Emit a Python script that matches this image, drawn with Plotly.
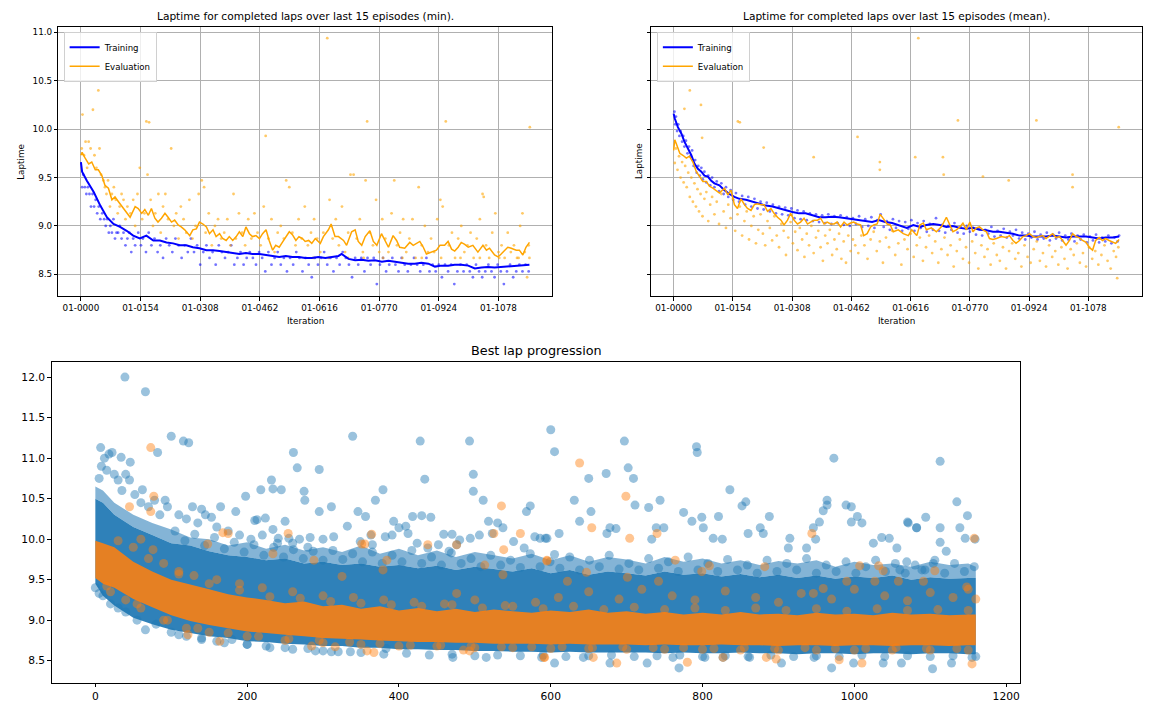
import plotly.graph_objects as go

# ---- top left: rolling min laptime ----
min_train_x = [0, 3, 15, 33, 50, 67, 84, 101, 118, 135, 152, 169, 187, 204, 221, 238, 255, 272, 289, 306,
               324, 341, 358, 375, 392, 409, 426, 443, 461, 478, 495, 512, 529, 546, 563, 579, 596, 613, 631,
               648, 665, 673, 691, 708, 725, 742, 759, 777, 794, 811, 828, 845, 862, 879, 897, 914, 931, 948,
               965, 982, 1000, 1017, 1034, 1051, 1068, 1085, 1102, 1120, 1137, 1158]
min_train_y = [9.66, 9.56, 9.47, 9.35, 9.21, 9.09, 9.02, 8.99, 8.95, 8.90, 8.87, 8.90, 8.85, 8.85, 8.83, 8.82,
               8.80, 8.80, 8.78, 8.77, 8.75, 8.75, 8.74, 8.73, 8.72, 8.71, 8.72, 8.71, 8.71, 8.70, 8.69, 8.68,
               8.69, 8.68, 8.68, 8.67, 8.67, 8.68, 8.67, 8.68, 8.69, 8.71, 8.66, 8.645, 8.65, 8.64, 8.645, 8.63,
               8.64, 8.63, 8.62, 8.61, 8.61, 8.62, 8.61, 8.58, 8.59, 8.59, 8.60, 8.60, 8.59, 8.56, 8.57, 8.575,
               8.57, 8.575, 8.58, 8.59, 8.59, 8.60]
min_eval_x = [0, 3, 11, 20, 28, 37, 45, 54, 62, 71, 80, 88, 97, 105, 114, 127, 140, 148, 157, 165, 174, 182,
              191, 199, 208, 217, 225, 234, 242, 251, 259, 268, 281, 289, 298, 306, 315, 324, 332, 341, 349,
              358, 366, 375, 383, 392, 401, 409, 418, 426, 435, 443, 452, 461, 469, 478, 486, 495, 503, 512,
              520, 529, 538, 546, 555, 563, 572, 579, 588, 596, 605, 618, 626, 639, 646, 656, 665, 678, 686,
              699, 708, 716, 725, 734, 746, 755, 764, 776, 785, 794, 806, 815, 823, 836, 849, 858, 875, 884,
              892, 905, 918, 927, 939, 948, 957, 965, 974, 982, 991, 1000, 1012, 1025, 1038, 1047, 1055, 1068,
              1077, 1085, 1094, 1102, 1111, 1124, 1132, 1141, 1149, 1158]
min_eval_y = [9.73, 9.76, 9.70, 9.64, 9.66, 9.58, 9.58, 9.52, 9.42, 9.39, 9.27, 9.30, 9.25, 9.21, 9.16, 9.09,
              9.20, 9.18, 9.13, 9.17, 9.11, 9.18, 9.08, 9.04, 9.08, 9.13, 9.09, 9.04, 9.06, 9.01, 8.99, 8.96,
              8.90, 8.96, 8.97, 9.04, 9.02, 8.99, 8.92, 8.96, 8.89, 8.92, 8.87, 8.85, 8.89, 8.85, 8.89, 8.94,
              8.89, 8.99, 8.92, 8.89, 8.90, 8.87, 8.92, 8.96, 8.85, 8.75, 8.80, 8.78, 8.83, 8.89, 8.94, 8.91,
              8.85, 8.89, 8.87, 8.84, 8.85, 8.82, 8.87, 8.82, 8.89, 8.96, 9.02, 8.89, 8.89, 8.85, 8.80, 8.94,
              8.96, 8.84, 8.80, 8.89, 8.95, 8.84, 8.80, 8.92, 8.85, 8.78, 8.90, 8.85, 8.78, 8.77, 8.83, 8.80,
              8.84, 8.78, 8.71, 8.73, 8.75, 8.80, 8.80, 8.84, 8.76, 8.74, 8.78, 8.83, 8.81, 8.78, 8.80, 8.73,
              8.80, 8.75, 8.77, 8.70, 8.68, 8.71, 8.75, 8.78, 8.77, 8.75, 8.75, 8.70, 8.78, 8.83]
min_train_pts_x = [3, 6, 10, 14, 18, 22, 26, 30, 34, 38, 42, 46, 50, 55, 60, 64, 68, 72, 76, 80, 84, 88, 92,
                   96, 100, 105, 110, 115, 120, 125, 130, 135, 140, 148, 155, 160, 168, 175, 182, 190, 198, 205,
                   212, 220, 228, 236, 244, 252, 260, 268, 276, 284, 292, 300, 308, 316, 324, 332, 340, 348,
                   356, 364, 372, 380, 388, 396, 404, 412, 420, 428, 436, 444, 452, 460, 468, 476, 484, 492,
                   500, 508, 516, 524, 532, 540, 548, 556, 564, 572, 580, 588, 596, 604, 612, 620, 628, 636,
                   644, 652, 660, 668, 676, 684, 692, 700, 708, 716, 724, 732, 740, 748, 756, 764, 772, 780,
                   788, 796, 804, 812, 820, 828, 836, 844, 852, 860, 868, 876, 884, 892, 900, 908, 916, 924,
                   932, 940, 948, 956, 964, 972, 980, 988, 996, 1004, 1012, 1020, 1028, 1036, 1044, 1052, 1060,
                   1068, 1076, 1084, 1092, 1100, 1108, 1116, 1124, 1132, 1140, 1148, 1156]
min_train_pts_y = [9.40, 9.53, 9.40, 9.33, 9.40, 9.33, 9.20, 9.33, 9.20, 9.27, 9.13, 9.20, 9.07, 9.13, 9.07,
                   9.00, 9.07, 8.93, 9.00, 8.93, 9.07, 8.87, 8.93, 8.93, 9.00, 8.87, 8.93, 8.80, 8.87, 8.93,
                   8.73, 8.87, 8.80, 8.93, 8.80, 8.87, 8.73, 8.93, 8.80, 8.87, 8.73, 8.80, 8.67, 8.87, 8.80,
                   8.73, 8.87, 8.80, 8.67, 8.80, 8.73, 8.87, 8.73, 8.80, 8.60, 8.73, 8.80, 8.67, 8.73, 8.60,
                   8.80, 8.73, 8.67, 8.73, 8.80, 8.60, 8.67, 8.73, 8.60, 8.67, 8.73, 8.67, 8.60, 8.73, 8.67,
                   8.53, 8.73, 8.60, 8.67, 8.73, 8.60, 8.67, 8.53, 8.67, 8.60, 8.73, 8.67, 8.53, 8.67, 8.60,
                   8.47, 8.67, 8.60, 8.67, 8.73, 8.60, 8.67, 8.53, 8.67, 8.60, 8.73, 8.67, 8.60, 8.47, 8.67,
                   8.60, 8.67, 8.53, 8.67, 8.60, 8.67, 8.40, 8.60, 8.67, 8.53, 8.60, 8.67, 8.60, 8.53, 8.67,
                   8.60, 8.53, 8.60, 8.67, 8.60, 8.53, 8.60, 8.67, 8.53, 8.60, 8.53, 8.60, 8.47, 8.60, 8.53,
                   8.60, 8.40, 8.53, 8.60, 8.53, 8.60, 8.53, 8.47, 8.60, 8.53, 8.47, 8.53, 8.60, 8.53, 8.47,
                   8.60, 8.53, 8.40, 8.53, 8.60, 8.47, 8.53, 8.60, 8.53, 8.60, 8.53]
min_eval_pts_x = [2, 4, 8, 12, 16, 20, 25, 31, 35, 40, 45, 48, 52, 58, 62, 66, 70, 75, 80, 85, 90, 95, 100,
                  105, 110, 115, 120, 128, 135, 140, 146, 152, 158, 164, 169, 176, 172, 180, 186, 192, 200, 206,
                  212, 218, 225, 233, 240, 246, 252, 258, 265, 272, 280, 288, 296, 304, 312, 318, 322, 330, 338,
                  346, 354, 362, 370, 378, 386, 394, 400, 408, 416, 424, 432, 440, 448, 456, 464, 472, 477, 484,
                  492, 500, 508, 516, 524, 530, 538, 546, 554, 562, 570, 578, 586, 594, 602, 610, 618, 626, 636,
                  642, 650, 658, 666, 674, 682, 690, 696, 704, 712, 720, 728, 735, 739, 746, 754, 762, 770, 778,
                  786, 794, 802, 809, 816, 824, 832, 840, 848, 856, 864, 872, 880, 888, 896, 904, 912, 920, 928,
                  934, 942, 950, 958, 966, 974, 982, 990, 998, 1006, 1014, 1022, 1030, 1037, 1040, 1046, 1054,
                  1062, 1070, 1078, 1086, 1094, 1102, 1110, 1118, 1126, 1134, 1140, 1146, 1152, 1159, 1156,
                  600, 640, 690, 730, 780, 830, 880, 930, 980, 1030, 1080, 1130, 1158]
min_eval_pts_y = [9.80, 10.15, 9.73, 9.87, 9.60, 9.87, 9.80, 10.20, 9.73, 9.60, 10.40, 9.80, 9.53, 9.47, 9.40,
                  9.33, 9.47, 9.20, 9.33, 9.40, 9.27, 9.13, 9.20, 9.33, 9.27, 9.07, 9.20, 9.13, 9.27, 9.00,
                  9.33, 9.60, 9.07, 9.13, 10.08, 10.07, 9.53, 9.27, 9.00, 9.13, 9.33, 8.93, 9.20, 9.33, 9.07,
                  9.80, 9.00, 9.13, 8.87, 9.20, 9.07, 8.93, 9.27, 8.87, 9.00, 9.33, 9.47, 9.40, 8.93, 9.13,
                  8.80, 9.00, 9.07, 8.87, 8.93, 9.07, 8.80, 9.33, 8.87, 9.13, 8.93, 8.80, 9.07, 8.87, 9.13,
                  8.93, 8.80, 9.20, 9.93, 8.87, 9.07, 8.73, 8.93, 9.00, 8.87, 9.47, 9.40, 8.93, 8.80, 9.07,
                  8.87, 9.20, 8.80, 8.93, 9.07, 8.87, 8.73, 8.93, 10.94, 9.27, 8.87, 9.07, 8.80, 9.20, 8.73,
                  8.93, 9.53, 9.53, 8.87, 9.07, 8.73, 9.47, 10.08, 8.93, 8.80, 9.27, 8.73, 9.07, 8.87, 8.73,
                  9.13, 9.47, 8.80, 8.93, 9.07, 8.73, 8.87, 9.07, 8.67, 9.40, 8.80, 9.00, 8.73, 8.87, 8.73,
                  9.07, 9.27, 9.20, 10.08, 8.80, 8.93, 8.67, 8.87, 9.00, 8.73, 8.80, 8.93, 8.67, 8.87, 9.07,
                  9.33, 9.30, 8.80, 8.67, 8.93, 9.13, 8.73, 8.80, 8.67, 8.93, 8.73, 8.80, 8.67, 9.00, 9.13,
                  8.73, 8.47, 10.02, 8.80,
                  8.67, 8.67, 8.67, 8.67, 8.67, 8.67, 8.67, 8.67, 8.67, 8.67, 8.67, 8.67, 8.67]

# ---- top right: rolling mean laptime ----
mean_train_x = [0, 3, 11, 20, 28, 37, 46, 54, 63, 72, 80, 89, 97, 106, 119, 132, 145, 158, 171, 188, 205, 223,
                240, 257, 274, 292, 309, 326, 343, 361, 378, 395, 412, 430, 447, 464, 481, 499, 516, 533, 550,
                568, 589, 606, 623, 640, 657, 675, 692, 709, 726, 744, 761, 778, 795, 813, 830, 847, 864, 882,
                899, 916, 934, 951, 968, 985, 1003, 1020, 1037, 1054, 1072, 1089, 1106, 1123, 1141, 1158]
mean_train_y = [10.16, 10.11, 10.02, 9.955, 9.87, 9.80, 9.73, 9.645, 9.59, 9.56, 9.52, 9.51, 9.47, 9.44, 9.42,
                9.37, 9.33, 9.30, 9.28, 9.27, 9.25, 9.23, 9.21, 9.20, 9.18, 9.16, 9.145, 9.13, 9.13, 9.11,
                9.09, 9.09, 9.095, 9.09, 9.08, 9.07, 9.06, 9.055, 9.04, 9.06, 9.04, 9.03, 9.00, 8.98, 9.01,
                8.99, 9.01, 9.02, 9.01, 8.99, 9.00, 8.98, 8.97, 8.98, 8.96, 8.955, 8.94, 8.94, 8.93, 8.92,
                8.90, 8.90, 8.89, 8.89, 8.89, 8.90, 8.89, 8.88, 8.89, 8.89, 8.89, 8.88, 8.87, 8.88, 8.88, 8.89]
mean_eval_x = [0, 3, 7, 11, 16, 24, 33, 41, 50, 59, 67, 76, 85, 93, 102, 110, 119, 132, 141, 149, 158, 166,
               175, 184, 192, 201, 210, 218, 227, 235, 244, 253, 261, 270, 279, 287, 296, 304, 313, 322, 330,
               339, 348, 356, 365, 374, 382, 391, 399, 408, 417, 425, 434, 443, 451, 460, 468, 477, 486, 494,
               503, 512, 520, 529, 537, 546, 555, 563, 571, 584, 597, 610, 619, 632, 640, 649, 657, 670, 683,
               696, 709, 718, 726, 735, 744, 752, 761, 770, 778, 787, 795, 804, 813, 821, 830, 839, 852, 864,
               873, 882, 890, 899, 908, 916, 925, 934, 942, 951, 959, 968, 977, 985, 994, 1003, 1011, 1020,
               1029, 1037, 1046, 1054, 1063, 1072, 1080, 1089, 1097, 1106, 1115, 1123, 1132, 1141, 1149, 1158]
mean_eval_y = [9.78, 9.89, 9.85, 9.80, 9.75, 9.73, 9.70, 9.72, 9.66, 9.56, 9.51, 9.46, 9.46, 9.41, 9.39, 9.37,
               9.34, 9.39, 9.32, 9.37, 9.22, 9.18, 9.28, 9.22, 9.18, 9.16, 9.22, 9.23, 9.22, 9.22, 9.15, 9.18,
               9.13, 9.09, 9.06, 9.01, 9.06, 9.13, 9.06, 9.02, 9.04, 9.08, 9.02, 9.04, 9.06, 9.06, 9.08, 9.02,
               9.04, 9.02, 9.02, 9.04, 8.99, 9.04, 9.01, 9.03, 9.04, 9.02, 9.01, 8.90, 8.92, 8.99, 9.01, 9.02,
               9.12, 9.07, 9.02, 9.01, 8.94, 8.96, 8.92, 8.90, 8.96, 8.90, 9.01, 9.03, 8.96, 8.98, 8.94, 8.99,
               9.09, 9.01, 8.94, 8.96, 8.99, 9.03, 8.96, 9.04, 8.94, 8.98, 8.99, 8.96, 8.94, 8.87, 8.86, 8.87,
               8.89, 8.88, 8.90, 8.85, 8.82, 8.85, 8.89, 8.90, 8.92, 8.89, 8.88, 8.89, 8.90, 8.87, 8.90, 8.92,
               8.88, 8.89, 8.85, 8.80, 8.85, 8.92, 8.89, 8.88, 8.85, 8.83, 8.78, 8.75, 8.85, 8.88, 8.85, 8.87,
               8.85, 8.83, 8.82, 8.86]
mean_train_pts_x = [2, 4, 6, 9, 12, 15, 18, 22, 25, 28, 32, 36, 40, 44, 48, 52, 56, 60, 64, 68, 72, 76, 80, 85,
                    90, 95, 100, 106, 112, 118, 124, 130, 136, 142, 148, 155, 162, 170, 178, 186, 194, 202, 210,
                    218, 226, 234, 242, 250, 258, 266, 274, 282, 290, 298, 306, 314, 322, 330, 338, 346, 354,
                    362, 370, 378, 386, 394, 402, 410, 418, 426, 434, 442, 450, 458, 466, 474, 482, 490, 498,
                    506, 514, 522, 530, 538, 546, 554, 562, 570, 578, 586, 594, 602, 610, 618, 626, 634, 642,
                    650, 658, 666, 674, 682, 690, 698, 706, 714, 722, 730, 738, 746, 754, 762, 770, 778, 786,
                    794, 802, 810, 818, 826, 834, 842, 850, 858, 866, 874, 882, 890, 898, 906, 914, 922, 930,
                    938, 946, 954, 962, 970, 978, 986, 994, 1002, 1010, 1018, 1026, 1034, 1042, 1050, 1058,
                    1066, 1074, 1082, 1090, 1098, 1106, 1114, 1122, 1130, 1138, 1146, 1154, 1158]
mean_train_pts_y = [10.18, 10.05, 10.13, 9.98, 10.05, 9.93, 9.98, 9.87, 9.93, 9.82, 9.88, 9.75, 9.82, 9.72,
                    9.78, 9.62, 9.68, 9.55, 9.62, 9.52, 9.60, 9.48, 9.56, 9.45, 9.52, 9.42, 9.50, 9.40, 9.46,
                    9.36, 9.44, 9.33, 9.40, 9.30, 9.37, 9.27, 9.34, 9.25, 9.31, 9.22, 9.30, 9.20, 9.28, 9.18,
                    9.25, 9.17, 9.24, 9.15, 9.22, 9.13, 9.20, 9.12, 9.19, 9.11, 9.18, 9.08, 9.16, 9.07, 9.15,
                    9.06, 9.13, 9.05, 9.12, 9.04, 9.11, 9.03, 9.12, 9.02, 9.10, 9.03, 9.11, 9.01, 9.09, 9.00,
                    9.08, 9.02, 9.10, 8.99, 9.07, 9.00, 9.09, 8.98, 9.06, 9.12, 8.99, 9.05, 8.96, 9.07, 8.98,
                    9.05, 8.95, 9.04, 8.97, 9.06, 8.95, 9.03, 8.98, 9.05, 8.94, 9.02, 8.96, 9.08, 8.95, 9.01,
                    8.93, 9.00, 8.96, 9.03, 8.93, 8.99, 8.92, 9.00, 8.94, 8.98, 8.91, 8.97, 8.90, 8.96, 8.92,
                    8.99, 8.89, 8.95, 8.90, 8.97, 8.88, 8.94, 8.90, 8.96, 8.87, 8.93, 8.86, 8.92, 8.88, 8.94,
                    8.86, 8.91, 8.87, 8.93, 8.85, 8.91, 8.87, 8.93, 8.85, 8.90, 8.86, 8.92, 8.84, 8.90, 8.86,
                    8.91, 8.83, 8.89, 8.85, 8.91, 8.83, 8.88, 8.84, 8.90, 8.82, 8.88, 8.84, 8.90]
mean_eval_pts_x = [3, 6, 10, 14, 18, 22, 26, 30, 34, 38, 42, 46, 50, 54, 58, 62, 66, 70, 75, 80, 85, 90, 95,
                   100, 106, 112, 118, 124, 130, 136, 142, 148, 154, 160, 166, 172, 178, 184, 190, 196, 202, 208,
                   214, 220, 226, 232, 238, 244, 250, 256, 262, 268, 274, 280, 286, 292, 298, 304, 310, 316, 322,
                   328, 334, 340, 346, 352, 358, 364, 370, 376, 382, 388, 394, 400, 406, 412, 418, 424, 430, 436,
                   442, 448, 454, 460, 466, 472,
                   480, 488, 496, 504, 512, 520, 528, 536, 544, 552, 560, 568, 576, 584, 592, 600, 608, 616, 624,
                   632, 640, 648, 656, 664, 672, 680, 688, 696, 704, 712, 720, 728, 736, 744, 752, 760, 768, 776,
                   784, 792, 800, 808, 816, 824, 832, 840, 848, 856, 864, 872, 880, 888, 896, 904, 912, 920, 928,
                   936, 944, 952, 960, 968, 976, 984, 992, 1000, 1008, 1016, 1024, 1032, 1040, 1048, 1056, 1064,
                   1072, 1080, 1088, 1096, 1104, 1112, 1120, 1128, 1136, 1144, 1150, 1156,
                   42, 71, 28, 167, 172, 234, 478, 636, 739, 943, 1157, 74, 364, 536, 536, 628, 700, 702, 804,
                   871, 1037, 1037, 1153]
mean_eval_pts_y = [9.65, 9.80, 9.58, 9.72, 9.50, 9.66, 9.45, 9.62, 9.40, 9.55, 9.30, 9.50, 9.25, 9.44, 9.20,
                   9.38, 9.15, 9.33, 9.10, 9.28, 9.35, 9.05, 9.22,
                   9.30, 9.12, 9.25, 9.02, 9.33, 9.15, 8.98, 9.22, 9.08, 9.28, 8.95, 9.12, 9.20, 8.90, 9.05,
                   9.15, 8.86, 9.00, 9.10, 8.82, 8.96, 9.12, 8.92, 8.80, 9.05, 8.98, 8.85, 9.10, 8.90, 8.78,
                   9.02, 8.95, 8.70, 8.88, 9.04, 8.82, 8.94, 8.75, 8.98, 8.86, 8.68, 8.92, 8.80, 9.00, 8.72,
                   8.88, 8.95, 8.78, 8.64, 8.90, 8.82, 8.96, 8.70, 8.86, 8.76, 8.92, 8.66, 8.84, 8.62, 8.90,
                   8.74, 8.86, 8.80,
                   8.72, 8.90, 8.80, 8.66, 8.86, 8.94, 8.74, 8.84, 8.62, 8.88, 8.78, 8.95, 8.70, 8.82, 8.60,
                   8.86, 8.76, 8.92, 8.68, 8.80, 8.88, 8.64, 8.78, 8.90, 8.72, 8.84, 8.62, 8.76, 8.88, 8.70,
                   8.80, 8.58, 8.74, 8.86, 8.66, 8.78, 8.62, 8.84, 8.72, 8.56, 8.80, 8.68, 8.76, 8.60, 8.82,
                   8.70, 8.64, 8.78, 8.56, 8.74, 8.82, 8.66, 8.72, 8.58, 8.80, 8.68, 8.62, 8.76, 8.84, 8.64,
                   8.72, 8.58, 8.80, 8.68, 8.74, 8.60, 8.78, 8.66, 8.56, 8.76, 8.70, 8.82, 8.62, 8.72, 8.58,
                   8.78, 8.66, 8.74, 8.60, 8.70, 8.80, 8.64, 8.56, 8.74, 8.68, 8.78,
                   10.40, 10.25, 10.21, 10.08, 10.07, 9.81, 9.92, 10.94, 10.09, 10.09, 10.02, 9.91, 9.71, 9.66,
                   9.58, 9.71, 9.71, 9.53, 9.51, 9.47, 9.53, 9.40, 8.46]

iter_ticks = [0, 154, 308, 462, 616, 770, 924, 1078]
iter_labels = ["01-0000", "01-0154", "01-0308", "01-0462", "01-0616", "01-0770", "01-0924", "01-1078"]

# ---- bottom: best lap progression ----
band_x = [0, 10, 25, 50, 75, 100, 125, 150, 175, 200, 225, 250, 275, 300, 325, 350, 375, 400, 425, 450, 475,
          500, 525, 550, 575, 600, 625, 650, 675, 700, 725, 750, 775, 800, 825, 850, 875, 900, 925, 950, 975,
          1000, 1025, 1050, 1075, 1100, 1125, 1150, 1160]
blue_mid_hi = [10.65, 10.60, 10.45, 10.30, 10.20, 10.12, 10.02, 10.00, 9.92, 9.96, 9.88, 9.93, 9.86, 9.90, 9.84,
               9.92, 9.82, 9.88, 9.80, 9.86, 9.78, 9.84, 9.80, 9.76, 9.82, 9.74, 9.80, 9.72, 9.78, 9.75, 9.70,
               9.78, 9.72, 9.76, 9.70, 9.74, 9.68, 9.73, 9.70, 9.74, 9.66, 9.72, 9.68, 9.70, 9.66, 9.72, 9.68,
               9.70, 9.66]
blue_hi = [10.50, 10.45, 10.30, 10.15, 10.05, 9.95, 9.92, 9.85, 9.80, 9.78, 9.74, 9.76, 9.70, 9.72, 9.68, 9.70,
           9.66, 9.68, 9.64, 9.67, 9.62, 9.66, 9.63, 9.60, 9.64, 9.58, 9.62, 9.56, 9.60, 9.58, 9.55, 9.60, 9.56,
           9.58, 9.54, 9.57, 9.53, 9.56, 9.52, 9.55, 9.51, 9.54, 9.52, 9.55, 9.50, 9.53, 9.51, 9.52, 9.52]
blue_lo = [9.45, 9.30, 9.18, 9.03, 8.95, 8.88, 8.84, 8.80, 8.78, 8.74, 8.73, 8.71, 8.70, 8.68, 8.68, 8.66, 8.66,
           8.64, 8.64, 8.63, 8.63, 8.62, 8.62, 8.61, 8.61, 8.60, 8.61, 8.60, 8.60, 8.60, 8.60, 8.59, 8.60, 8.59,
           8.59, 8.60, 8.59, 8.59, 8.58, 8.59, 8.59, 8.58, 8.59, 8.59, 8.58, 8.59, 8.59, 8.58, 8.58]
orange_hi = [9.98, 9.95, 9.90, 9.72, 9.60, 9.50, 9.44, 9.38, 9.32, 9.28, 9.25, 9.21, 9.23, 9.17, 9.19, 9.14,
             9.17, 9.12, 9.15, 9.11, 9.14, 9.10, 9.13, 9.11, 9.09, 9.12, 9.10, 9.13, 9.09, 9.11, 9.08, 9.10,
             9.07, 9.09, 9.07, 9.10, 9.07, 9.08, 9.06, 9.09, 9.07, 9.08, 9.06, 9.09, 9.07, 9.08, 9.06, 9.07, 9.07]
orange_lo = [9.52, 9.45, 9.40, 9.26, 9.16, 9.06, 8.99, 8.94, 8.90, 8.86, 8.84, 8.82, 8.80, 8.78, 8.77, 8.76,
             8.75, 8.74, 8.73, 8.73, 8.72, 8.72, 8.71, 8.71, 8.71, 8.70, 8.71, 8.70, 8.70, 8.70, 8.69, 8.70,
             8.69, 8.69, 8.70, 8.69, 8.69, 8.68, 8.69, 8.69, 8.68, 8.69, 8.69, 8.68, 8.69, 8.69, 8.68, 8.69, 8.69]

blue_pts_x = [39, 66, 100, 116, 123, 7, 34, 46, 82, 261, 295, 266, 232, 234, 245, 218, 198, 275, 276, 339, 428,
              434, 493, 498, 498, 511, 379, 369, 346, 356, 311, 295, 418, 430, 442, 393, 409, 518, 530, 568, 573,
              78, 92, 62, 128, 140, 153, 165, 185, 210, 213, 224, 234, 250, 459, 470, 476, 363,
              241, 255, 269, 283, 300, 314, 332, 349, 365, 382, 391, 400, 412, 424, 438, 452, 466, 480, 494,
              506, 523, 537, 551, 565, 579, 593, 605,
              600, 605, 697, 702, 709, 673, 650, 631, 653, 638, 711, 729, 744, 792, 793, 836, 852, 857, 973,
              964, 964, 959, 954, 989, 996, 1004, 1010, 996, 1113, 1135, 1149, 1094, 1070, 1082, 1113, 1139,
              1146, 1159, 1113, 1121, 775, 786, 799, 801, 821, 814, 826, 749, 739, 733, 678, 686, 674, 611,
              595, 586, 860, 876, 880, 888, 915, 913, 937, 946, 949, 1025, 1036, 1046, 1056, 1071, 1082, 1069,
              1060, 1089, 1104,
              769, 970, 1103, 605, 588, 515, 471, 336, 311, 383, 643, 678, 727, 761, 803, 827, 862, 904, 947,
              999, 1038, 1062, 1128, 1155,
              5, 8, 12, 15, 18, 22, 25, 30, 35, 40, 45, 52, 60, 70, 85, 95, 110, 120, 135, 145, 160, 175,
              190, 205, 220, 240, 260, 280,
              0, 5, 10, 20, 30, 40, 55, 66, 80, 100, 120, 140, 160, 180, 200, 225, 250, 280, 300,
              105, 118, 131, 144, 157, 170, 183, 196, 209, 222, 235, 248, 261, 274, 287, 300, 313, 326, 339,
              352, 365, 378, 391, 404, 417, 430, 443, 456, 469, 482, 495, 508, 521, 534, 547, 560, 573, 586,
              599, 612, 625, 638, 651, 664, 677, 690, 703, 716, 729, 742, 755, 768, 781, 794, 807, 820, 833,
              846, 859, 872, 885, 898, 911, 924, 937, 950, 963, 976, 989, 1002, 1015, 1028, 1041, 1054, 1067,
              1080, 1093, 1106, 1119, 1132, 1145, 1158,
              110, 140, 170, 200, 230, 260, 290, 320, 350, 380, 410, 440, 470, 500, 530, 560, 590, 620, 650,
              680, 710, 740, 770, 800, 830, 860, 890, 920, 950, 980, 1010, 1040, 1070, 1100, 1130, 1160]
blue_pts_y = [12.00, 11.82, 11.27, 11.21, 11.19, 11.13, 11.01, 10.95, 11.07, 11.07, 10.86, 10.88, 10.73, 10.62,
              10.61, 10.61, 10.53, 10.59, 10.48, 11.27, 11.21, 10.74, 11.21, 10.80, 10.59, 10.48, 10.61, 10.48,
              10.34, 10.28, 10.40, 10.34, 10.28, 10.29, 10.27, 10.22, 10.16, 10.22, 10.20, 10.34, 10.41,
              10.48, 10.48, 10.61, 10.40, 10.37, 10.27, 10.40, 10.34, 10.23, 10.24, 10.26, 10.12, 10.22,
              10.06, 10.06, 9.93, 10.05,
              10.01, 10.01, 10.00, 10.02, 10.00, 10.03, 10.16, 9.97, 9.93, 10.03, 10.05, 10.14, 10.07, 9.95,
              9.89, 9.93, 9.85, 9.99, 10.01, 10.05, 10.07, 10.14, 9.97, 9.89, 10.03, 10.01, 9.81,
              11.35, 11.08, 11.21, 10.88, 10.75, 10.81, 10.75, 10.48, 10.34, 10.22, 10.42, 10.39, 10.48,
              11.14, 11.07, 10.61, 10.41, 10.46, 11.00, 10.48, 10.42, 10.35, 10.21, 10.42, 10.40, 10.28,
              10.20, 10.21, 10.96, 10.46, 10.29, 10.27, 10.21, 10.14, 10.14, 10.14, 10.01, 10.00, 9.96, 9.85,
              10.33, 10.22, 10.27, 10.14, 10.28, 10.01, 10.00, 10.14, 10.14, 10.00, 10.14, 10.13, 10.07,
              10.07, 10.01, 10.01, 10.07, 10.14, 10.07, 10.28, 10.01, 9.89, 9.89, 10.14, 10.00, 9.95, 10.02,
              10.01, 9.89, 10.20, 10.14, 9.72, 9.62, 9.62, 9.70,
              8.41, 8.41, 8.40, 8.47, 8.54, 8.54, 8.54, 8.61, 8.61, 8.65, 8.54, 8.47, 8.47, 8.54, 8.54, 8.54,
              8.54, 8.47, 8.54, 8.47, 8.47, 8.47, 8.47, 8.54,
              10.75, 10.90, 11.00, 10.85, 11.05, 11.07, 10.80, 10.73, 10.60, 10.80, 10.73, 10.55, 10.45, 10.40,
              10.30, 10.40, 10.30, 10.25, 10.20, 10.30, 10.15, 10.10, 10.05, 10.00, 10.05, 9.95, 9.95, 9.90,
              9.40, 9.33, 9.30, 9.20, 9.15, 9.10, 9.00, 8.88, 8.95, 8.85, 8.80, 8.78, 8.74, 8.76, 8.70, 8.68,
              8.66, 8.65, 8.62,
              10.10, 9.98, 10.06, 9.92, 10.02, 9.88, 9.96, 9.84, 9.93, 9.80, 9.90, 9.78, 9.87, 9.76, 9.85,
              9.74, 9.86, 9.75, 9.82, 9.72, 9.84, 9.70, 9.80, 9.72, 9.86, 9.70, 9.78, 9.68, 9.83, 9.70, 9.76,
              9.66, 9.80, 9.68, 9.74, 9.65, 9.82, 9.66, 9.72, 9.64, 9.78, 9.62, 9.74, 9.66, 9.80, 9.63, 9.70,
              9.62, 9.76, 9.64, 9.72, 9.60, 9.78, 9.62, 9.70, 9.60, 9.75, 9.62, 9.68, 9.58, 9.74, 9.60, 9.70,
              9.62, 9.76, 9.58, 9.68, 9.60, 9.72, 9.58, 9.66, 9.74, 9.60, 9.70, 9.58, 9.68, 9.62, 9.74, 9.58,
              9.70, 9.60, 9.66,
              8.82, 8.76, 8.72, 8.70, 8.66, 8.64, 8.62, 8.61, 8.60, 8.58, 8.59, 8.57, 8.58, 8.56, 8.57, 8.56,
              8.57, 8.55, 8.56, 8.57, 8.55, 8.56, 8.57, 8.55, 8.56, 8.55, 8.57, 8.55, 8.56, 8.55, 8.57, 8.55,
              8.56, 8.55, 8.56, 8.55]

orange_pts_x = [73, 77, 73, 45, 535, 560, 525, 364, 254, 168, 175, 148, 234, 438, 476, 351, 355, 538, 595, 288,
                384, 513, 379, 76, 325, 537, 476,
                164, 122, 285, 316, 358, 367, 485, 493, 591,
                638, 699, 654, 704, 740, 944, 1158, 764, 809, 882, 799, 1007, 1032, 1106, 1091, 1148, 1038,
                990, 1027, 1058, 595, 622, 647, 701, 742, 946, 959,
                592, 656, 687, 780, 827, 884, 897, 980, 1010, 1155,
                610, 650, 690, 720, 760, 790, 830, 870, 900, 930, 970, 1000, 1040, 1070, 1100, 1130, 1150, 1160,
                50, 60, 90, 110, 130, 160, 190, 220, 260, 300, 340, 380, 420, 460, 500, 540, 580,
                20, 40, 60, 90, 120, 150, 200, 250, 300, 350, 400, 450, 500, 550, 600, 650, 700, 750, 800,
                850, 900, 950, 1000, 1050, 1100, 1150,
                30, 70, 110, 150, 190, 230, 270, 310, 350, 390, 430, 470, 510, 550, 590, 630, 670, 710, 750,
                790, 830, 870, 910, 950, 990, 1030, 1070, 1110, 1150,
                15, 55, 95, 135, 175, 215, 255, 295, 335, 375, 415, 455, 495, 535, 575, 615, 655, 695, 735,
                775, 815, 855, 895, 935, 975, 1015, 1055, 1095, 1135]
orange_pts_y = [11.13, 10.53, 10.34, 10.40, 10.41, 10.07, 10.07, 10.06, 10.07, 10.08, 10.07, 9.94, 9.82, 9.93,
                9.93, 9.94, 9.94, 9.87, 9.74, 9.74, 9.74, 9.68, 9.62, 9.87, 9.54, 9.56, 9.33,
                8.74, 8.82, 8.68, 8.67, 8.62, 8.60, 8.63, 8.62, 8.54,
                10.94, 10.53, 10.14, 10.01, 10.07, 10.07, 10.01, 9.74, 9.67, 9.66, 9.60, 9.67, 9.67, 9.61,
                9.48, 9.41, 9.61, 9.48, 9.48, 9.48, 9.73, 9.48, 9.59, 9.53, 9.48, 9.33, 9.39,
                8.54, 8.54, 8.47, 8.48, 8.54, 8.54, 8.52, 8.51, 8.47, 8.46,
                9.28, 9.35, 9.26, 9.38, 9.30, 9.25, 9.36, 9.28, 9.22, 9.33, 9.26, 9.38, 9.30, 9.24, 9.34, 9.28,
                9.38, 9.26,
                9.90, 10.00, 9.70, 9.60, 9.55, 9.50, 9.45, 9.40, 9.35, 9.30, 9.28, 9.25, 9.22, 9.20, 9.25,
                9.18, 9.22,
                9.35, 9.25, 9.15, 9.00, 8.90, 8.85, 8.80, 8.75, 8.72, 8.70, 8.68, 8.68, 8.66, 8.66, 8.65, 8.65,
                8.64, 8.64, 8.64, 8.63, 8.63, 8.63, 8.63, 8.63, 8.63, 8.63,
                9.98, 9.76, 9.57, 9.45, 9.37, 9.29, 9.27, 9.23, 9.21, 9.19, 9.17, 9.19, 9.15, 9.17, 9.14, 9.17,
                9.13, 9.16, 9.13, 9.15, 9.12, 9.15, 9.12, 9.14, 9.11, 9.14, 9.12, 9.13, 9.12,
                9.42, 9.20, 9.00, 8.90, 8.84, 8.80, 8.77, 8.75, 8.73, 8.71, 8.69, 8.69, 8.68, 8.67, 8.67, 8.67,
                8.66, 8.67, 8.66, 8.66, 8.65, 8.66, 8.65, 8.66, 8.65, 8.65, 8.66, 8.65, 8.65]

FONT = "DejaVu Sans"
fig = go.Figure()

# top left
fig.add_trace(go.Scatter(x=min_train_pts_x, y=min_train_pts_y, mode="markers", showlegend=False,
                         marker=dict(color="blue", size=2.8, opacity=0.55), xaxis="x", yaxis="y"))
fig.add_trace(go.Scatter(x=min_eval_pts_x, y=min_eval_pts_y, mode="markers", showlegend=False,
                         marker=dict(color="orange", size=2.8, opacity=0.6), xaxis="x", yaxis="y"))
fig.add_trace(go.Scatter(x=min_train_x, y=min_train_y, mode="lines", name="Training",
                         line=dict(color="blue", width=2), xaxis="x", yaxis="y", legend="legend"))
fig.add_trace(go.Scatter(x=min_eval_x, y=min_eval_y, mode="lines", name="Evaluation",
                         line=dict(color="orange", width=1.5), xaxis="x", yaxis="y", legend="legend"))

# top right
fig.add_trace(go.Scatter(x=mean_train_pts_x, y=mean_train_pts_y, mode="markers", showlegend=False,
                         marker=dict(color="blue", size=2.8, opacity=0.55), xaxis="x2", yaxis="y2"))
fig.add_trace(go.Scatter(x=mean_eval_pts_x, y=mean_eval_pts_y, mode="markers", showlegend=False,
                         marker=dict(color="orange", size=2.8, opacity=0.6), xaxis="x2", yaxis="y2"))
fig.add_trace(go.Scatter(x=mean_train_x, y=mean_train_y, mode="lines", name="Training",
                         line=dict(color="blue", width=2), xaxis="x2", yaxis="y2", legend="legend2"))
fig.add_trace(go.Scatter(x=mean_eval_x, y=mean_eval_y, mode="lines", name="Evaluation",
                         line=dict(color="orange", width=1.5), xaxis="x2", yaxis="y2", legend="legend2"))


def band(lo, hi, color):
    return go.Scatter(x=band_x + band_x[::-1], y=hi + lo[::-1], fill="toself", mode="none",
                      fillcolor=color, showlegend=False, hoverinfo="skip", xaxis="x3", yaxis="y3")


# bottom: dense cores as filled bands, sparser points around them
fig.add_trace(band(blue_hi, blue_mid_hi, "rgba(31,119,180,0.55)"))
fig.add_trace(band(blue_lo, blue_hi, "rgba(31,119,180,0.93)"))
fig.add_trace(go.Scatter(x=blue_pts_x, y=blue_pts_y, mode="markers", showlegend=False,
                         marker=dict(color="#1f77b4", size=9, opacity=0.45), xaxis="x3", yaxis="y3"))
fig.add_trace(band(orange_lo, orange_hi, "rgba(255,127,14,0.88)"))
fig.add_trace(go.Scatter(x=orange_pts_x, y=orange_pts_y, mode="markers", showlegend=False,
                         marker=dict(color="#ff7f0e", size=9, opacity=0.45), xaxis="x3", yaxis="y3"))

axis_common = dict(showline=True, linecolor="black", linewidth=1, mirror=True, ticks="outside",
                   ticklen=3.5, tickcolor="black", zeroline=False, automargin=False)
top_x = dict(axis_common, range=[-58, 1217], tickvals=iter_ticks, ticktext=iter_labels,
             showgrid=True, gridcolor="#b0b0b0", gridwidth=0.8, tickfont=dict(size=8.8, color="black"))
top_y = dict(axis_common, range=[8.276, 11.058], tickvals=[8.5, 9.0, 9.5, 10.0, 10.5, 11.0],
             tickformat=".1f", showgrid=True, gridcolor="#b0b0b0", gridwidth=0.8,
             tickfont=dict(size=8.8, color="black"))

legend_common = dict(font=dict(family=FONT, size=8.6, color="black"), bgcolor="rgba(255,255,255,0.8)",
                     bordercolor="#d0d0d0", borderwidth=1, xanchor="left", yanchor="top",
                     tracegroupgap=0, itemwidth=30)


def label(text, x, y, size, angle=0):
    return dict(text=text, x=x, y=y, xref="paper", yref="paper", xanchor="center", yanchor="middle",
                showarrow=False, textangle=angle, font=dict(size=size))


fig.update_layout(
    template="none",
    width=1153, height=718,
    margin=dict(l=0, r=0, t=0, b=0, autoexpand=False),
    paper_bgcolor="white", plot_bgcolor="white",
    font=dict(family=FONT, color="black"),
    xaxis=dict(top_x, domain=[0.0507, 0.4790], anchor="y"),
    yaxis=dict(top_y, domain=[0.5877, 0.9628], anchor="x"),
    xaxis2=dict(top_x, domain=[0.5649, 0.9903], anchor="y2"),
    yaxis2=dict(top_y, domain=[0.5877, 0.9628], anchor="x2", showticklabels=False),
    xaxis3=dict(axis_common, domain=[0.0449, 0.8849], anchor="y3", range=[-57.4, 1218.6],
                tickvals=[0, 200, 400, 600, 800, 1000, 1200], showgrid=False,
                tickfont=dict(size=10.7, color="black")),
    yaxis3=dict(axis_common, domain=[0.0492, 0.4962], anchor="x3", range=[8.228, 12.19],
                tickvals=[8.5, 9.0, 9.5, 10.0, 10.5, 11.0, 11.5, 12.0], tickformat=".1f", showgrid=False,
                tickfont=dict(size=10.7, color="black")),
    legend=dict(legend_common, x=0.0552, y=0.9559),
    legend2=dict(legend_common, x=0.5697, y=0.9559),
    annotations=[
        label("Laptime for completed laps over last 15 episodes (min).", 0.2649, 0.9777, 10.6),
        label("Laptime for completed laps over last 15 episodes (mean).", 0.7776, 0.9777, 10.6),
        label("Iteration", 0.2649, 0.5529, 8.8),
        label("Iteration", 0.7776, 0.5529, 8.8),
        label("Laptime", 0.0176, 0.775, 8.8, -90),
        label("Laptime", 0.5538, 0.775, 8.8, -90),
        label("Best lap progression", 0.4649, 0.5125, 12.8),
    ],
)

# the page body has a default 8px margin; remove it so the figure sits at the window corner
fig.write_html("out.html", config={"displayModeBar": False},
               post_script="document.body.style.margin='0';")
